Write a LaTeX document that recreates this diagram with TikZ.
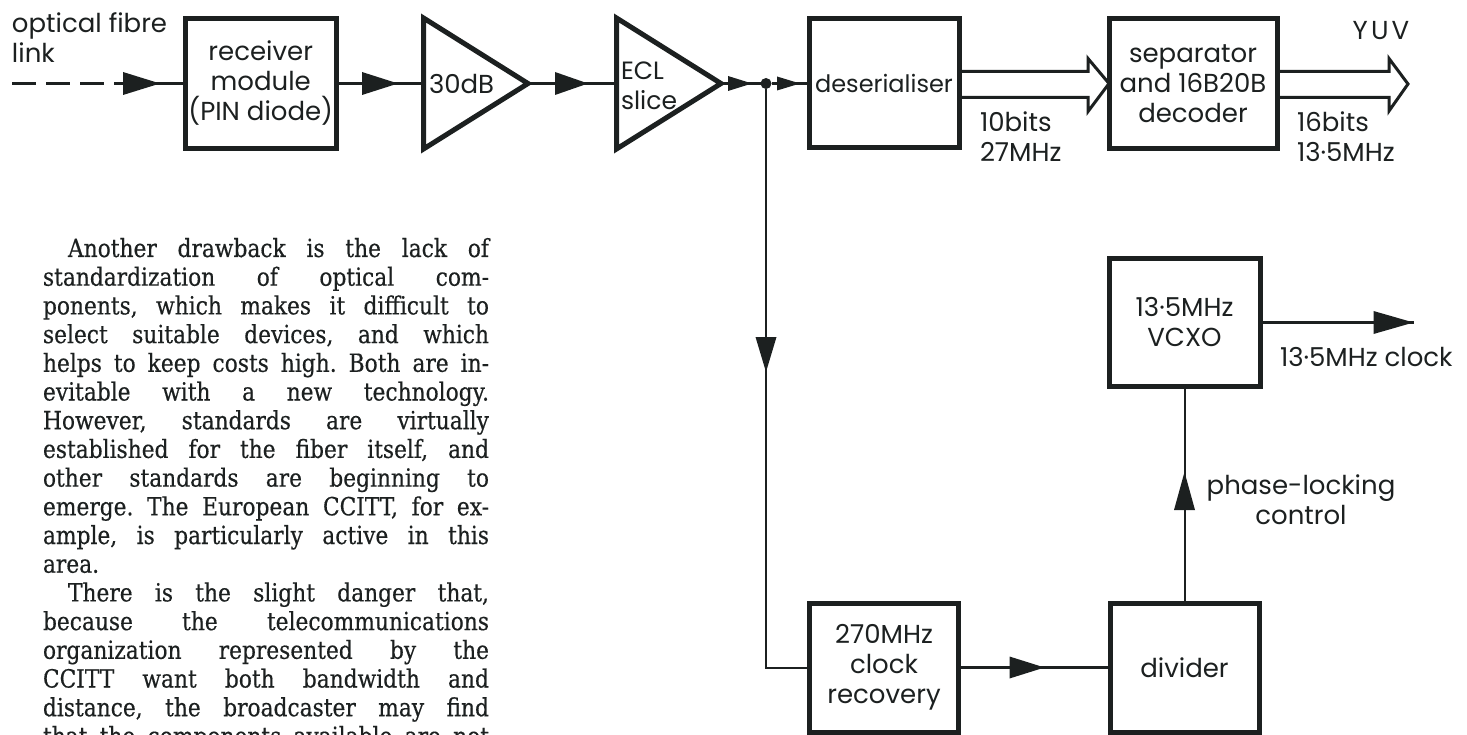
\documentclass[tikz,border=0pt]{standalone}
\usepackage{fontspec}
\setmainfont[FakeStretch=0.87,FakeBold=0.4]{DejaVu Serif}
\newfontfamily\diag{Poppins}
\usetikzlibrary{calc,decorations.markings}
\definecolor{ink}{RGB}{28,32,32}
\newcommand{\dfont}{\diag\fontsize{26}{30}\selectfont}
\newcommand{\pfont}{\frenchspacing\fontsize{25}{28.7}\selectfont}
\newcommand{\pl}[5]{\node[ptext, anchor=base west] (#1) at (#2,#3) {\makebox[#4][s]{#5}};}
\tikzset{
  every node/.style={inner sep=0pt, outer sep=0pt, text=ink},
  blk/.style={draw=ink, line width=5pt, font=\dfont, align=center},
  tri/.style={draw=ink, line width=5pt, line join=miter},
  conn/.style={draw=ink, line width=2.5pt},
  thinconn/.style={draw=ink, line width=2pt},
  wide/.style={draw=ink, line width=3pt, line join=miter},
  lbl/.style={font=\dfont, align=left},
  ptext/.style={font=\pfont},
  head/.style args={#1:#2:#3}{postaction={decorate}, decoration={markings,
     mark=at position #1 with {\fill[ink] (0pt,0pt) -- (-#2pt,#3pt) -- (-#2pt,-#3pt) -- cycle;}}}
}
\begin{document}
\begin{tikzpicture}[x=1pt,y=-1pt]
\useasboundingbox (0,0) rectangle (1467,735);
\fill[white] (0,0) rectangle (1467,735);

% ---------- blocks ----------
\node[blk, minimum width=150.5pt, minimum height=130pt] (recv) at (260.75,83.5) {receiver\\module\\(PIN diode)};
\node[blk, minimum width=150pt, minimum height=129pt, font=\diag\fontsize{24}{30}\selectfont] (deser) at (884,83.5) {deserialiser};
\node[blk, minimum width=168pt, minimum height=130pt] (sep) at (1193,83.5) {separator\\and 16B20B\\decoder};
\node[blk, minimum width=151pt, minimum height=128pt] (vcxo) at (1184.5,322.5) {13·5MHz\\VCXO};
\node[blk, minimum width=149pt, minimum height=129pt] (clk) at (884,667.5) {270MHz\\clock\\recovery};
\node[blk, minimum width=149pt, minimum height=129pt] (div) at (1184.5,667.5) {divider};

% ---------- amplifiers (triangles) ----------
\coordinate (a1tl) at (423.5,18);
\coordinate (a1bl) at (423.5,149);
\coordinate (a1in) at (423.5,83.5);
\coordinate (a1out) at (528,83.5);
\draw[tri] (a1tl) -- (a1out) -- (a1bl) -- cycle;
\node[font=\diag\fontsize{26}{30}\selectfont, anchor=west] (a1t) at (429,84) {30dB};

\coordinate (e1tl) at (616.5,18);
\coordinate (e1bl) at (616.5,149);
\coordinate (e1in) at (616.5,83.5);
\coordinate (e1out) at (721,83.5);
\draw[tri] (e1tl) -- (e1out) -- (e1bl) -- cycle;
\node[font=\diag\fontsize{25}{30}\selectfont, align=left, anchor=west] (e1t) at (621,86) {ECL\\slice};

% ---------- junction dot ----------
\node[circle, fill=ink, minimum size=11pt] (dot) at (766,83.5) {};

% ---------- connectors ----------
\coordinate (fin) at (12,83.5);
\coordinate (dend) at (123,83.5);
\draw[conn, dash pattern=on 24pt off 10pt] (fin) -- (dend);
\draw[conn, head={37pt:37:11.5}] (dend) -- (recv.west);
\draw[conn, head={62pt:36:11.5}] (recv.east) -- (a1in);
\draw[conn, head={60pt:33:11.5}] (a1out) -- (e1in);
\draw[conn, head={31pt:24:7.5}] (e1out) -- (dot);
\draw[conn, head={28.5pt:23:7}] (dot) -- (deser.west);
\draw[thinconn, head={283pt:35:10.5}] (dot) |- (clk.west);
\draw[conn, head={86pt:35:11}] (clk.east) -- (div.west);
\draw[thinconn, head={131pt:38:10.5}] (div.north) -- (vcxo.south);
\coordinate (clkout) at (1414,322.5);
\draw[conn, head={153.5pt:40:11.5}] (vcxo.east) -- (clkout);

% ---------- wide bus arrows ----------
\draw[wide] ($(deser.east)+(0,-12)$) -- ($(sep.west)+(-21,-12)$) -- ($(sep.west)+(-21,-25)$)
   -- (sep.west) -- ($(sep.west)+(-21,28)$) -- ($(sep.west)+(-21,14)$) -- ($(deser.east)+(0,14)$);
\coordinate (yuvtip) at (1408,84);
\draw[wide] ($(sep.east)+(0,-12)$) -- ($(yuvtip)+(-19,-12.5)$) -- ($(yuvtip)+(-19,-25.5)$)
   -- (yuvtip) -- ($(yuvtip)+(-19,27)$) -- ($(yuvtip)+(-19,13.5)$) -- ($(sep.east)+(0,14)$);

% ---------- labels ----------
\node[lbl, anchor=north west] (inlbl) at (12,13) {optical fibre\\link};
\node[lbl, anchor=north west] (bus1) at (980,112) {10bits\\27MHz};
\node[lbl, anchor=north west] (bus2) at (1297,112) {16bits\\13·5MHz};
\node[lbl] (yuv) at (1381,31) {\addfontfeature{LetterSpace=12}YUV};
\node[lbl, anchor=west] (clklbl) at (1280,357) {13·5MHz clock};
\node[lbl, align=center] (pll) at (1301,500) {phase-locking\\control};

% ---------- text column ----------
\pl{p1}{68}{257}{421pt}{Another drawback is the lack of}
\pl{p2}{43}{285.7}{446pt}{standardization of optical com-}
\pl{p3}{43}{314.4}{446pt}{ponents, which makes it difficult to}
\pl{p4}{43}{343.1}{446pt}{select suitable devices, and which}
\pl{p5}{43}{371.8}{446pt}{helps to keep costs high. Both are in-}
\pl{p6}{43}{400.5}{446pt}{evitable with a new technology.}
\pl{p7}{43}{429.2}{446pt}{However, standards are virtually}
\pl{p8}{43}{457.9}{446pt}{established for the fiber itself, and}
\pl{p9}{43}{486.6}{446pt}{other standards are beginning to}
\pl{p10}{43}{515.3}{446pt}{emerge. The European CCITT, for ex-}
\pl{p11}{43}{544}{446pt}{ample, is particularly active in this}
\node[ptext, anchor=base west] (p12) at (43,572.7) {area.};
\pl{p13}{68}{601.4}{421pt}{There is the slight danger that,}
\pl{p14}{43}{630.1}{446pt}{because the telecommunications}
\pl{p15}{43}{658.8}{446pt}{organization represented by the}
\pl{p16}{43}{687.5}{446pt}{CCITT want both bandwidth and}
\pl{p17}{43}{716.2}{446pt}{distance, the broadcaster may find}
\pl{p18}{43}{744.9}{446pt}{that the components available are not}
\end{tikzpicture}
\end{document}
